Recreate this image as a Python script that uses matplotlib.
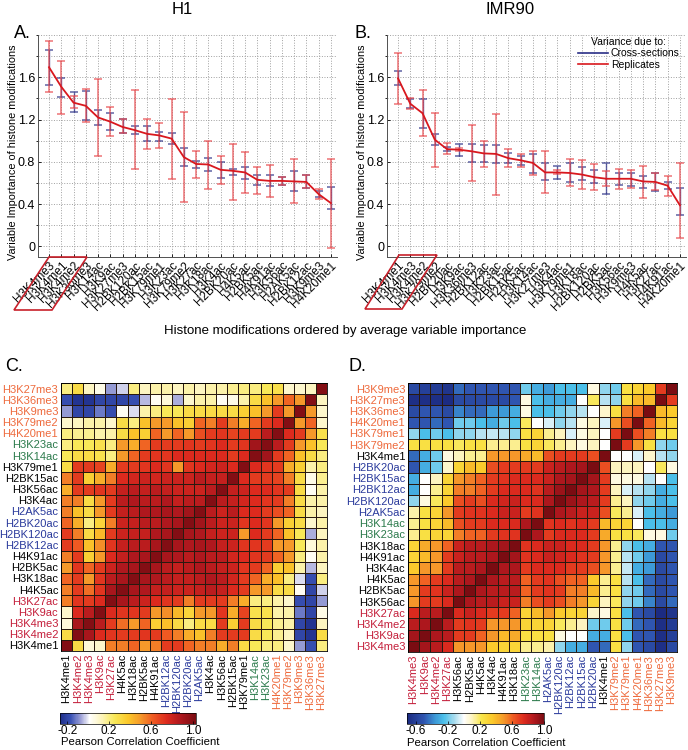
import numpy as np
import matplotlib
matplotlib.use("Agg")
import matplotlib.pyplot as plt
from matplotlib.colors import LinearSegmentedColormap
from matplotlib.patches import Polygon
from matplotlib.lines import Line2D

plt.rcParams['font.family'] = ['Liberation Sans', 'DejaVu Sans']

# ---------------- data: panel A (H1) ----------------
a_labels = ["H3K4me3", "H3K4me1", "H3K4me2", "H3K36me3", "H3K14ac", "H3K9ac", "H3K27me3",
            "H2BK120ac", "H2BK15ac", "H3K79me1", "H3K23ac", "H3K79me2", "H3K27ac", "H3K18ac",
            "H3K4ac", "H2BK20ac", "H4K5ac", "H2BK5ac", "H4K91ac", "H3K56ac", "H2AK5ac",
            "H2BK12ac", "H3K9me3", "H4K20me1"]
a_mean = [1.695, 1.51, 1.36, 1.33, 1.22, 1.18, 1.13, 1.10, 1.065, 1.05, 1.02, 0.845, 0.78, 0.775,
          0.725, 0.715, 0.70, 0.63, 0.62, 0.62, 0.615, 0.61, 0.495, 0.41]
a_rep_lo = [1.46, 1.255, 1.31, 1.18, 0.855, 1.04, 1.07, 0.735, 0.92, 0.93, 0.64, 0.42, 0.65, 0.545,
            0.59, 0.44, 0.505, 0.50, 0.465, 0.58, 0.41, 0.55, 0.445, -0.015]
a_rep_hi = [1.94, 1.75, 1.42, 1.49, 1.58, 1.315, 1.21, 1.48, 1.21, 1.165, 1.39, 1.27, 0.90, 1.0,
            0.86, 0.97, 0.895, 0.755, 0.77, 0.655, 0.825, 0.675, 0.545, 0.825]
a_cs_lo = [1.53, 1.41, 1.27, 1.20, 1.15, 1.10, 1.07, 1.06, 1.00, 1.00, 0.97, 0.76, 0.745, 0.715,
           0.645, 0.68, 0.64, 0.585, 0.575, 0.58, 0.525, 0.555, 0.47, 0.35]
a_cs_hi = [1.86, 1.59, 1.46, 1.47, 1.29, 1.265, 1.21, 1.14, 1.135, 1.08, 1.07, 0.935, 0.81, 0.835,
           0.80, 0.735, 0.755, 0.68, 0.675, 0.66, 0.715, 0.675, 0.52, 0.565]

# ---------------- data: panel B (IMR90) ----------------
b_labels = ["H3K4me1", "H3K4me3", "H3K4me2", "H3K79me2", "H2BK20ac", "H3K9ac", "H3K36me3",
            "H2BK12ac", "H3K23ac", "H2BK15ac", "H2AK5ac", "H3K14ac", "H3K27me3", "H3K4ac",
            "H3K79me1", "H3K18ac", "H2BK120ac", "H2BK5ac", "H3K56ac", "H3K9me3", "H4K5ac",
            "H3K27ac", "H4K91ac", "H4K20me1"]
b_mean = [1.59, 1.35, 1.26, 1.01, 0.92, 0.915, 0.90, 0.88, 0.875, 0.835, 0.815, 0.79, 0.70, 0.70,
          0.695, 0.68, 0.655, 0.64, 0.64, 0.64, 0.615, 0.61, 0.575, 0.39]
b_rep_lo = [1.35, 1.30, 1.04, 0.755, 0.87, 0.90, 0.615, 0.75, 0.485, 0.75, 0.755, 0.675, 0.505,
            0.685, 0.57, 0.545, 0.53, 0.57, 0.54, 0.555, 0.46, 0.53, 0.48, 0.08]
b_rep_hi = [1.83, 1.40, 1.48, 1.26, 0.975, 0.935, 1.145, 0.995, 1.255, 0.92, 0.875, 0.90, 0.905,
            0.72, 0.83, 0.82, 0.78, 0.71, 0.735, 0.72, 0.765, 0.695, 0.67, 0.785]
b_cs_lo = [1.525, 1.31, 1.125, 0.96, 0.90, 0.855, 0.80, 0.80, 0.785, 0.785, 0.775, 0.695, 0.625,
           0.635, 0.61, 0.63, 0.60, 0.50, 0.585, 0.575, 0.555, 0.525, 0.54, 0.30]
b_cs_hi = [1.655, 1.395, 1.39, 1.06, 0.94, 0.97, 0.965, 0.955, 0.955, 0.88, 0.855, 0.87, 0.785,
           0.765, 0.79, 0.755, 0.72, 0.785, 0.695, 0.695, 0.67, 0.695, 0.61, 0.555]

# ---------------- data: panel C (H1 correlations) ----------------
c_labels = ["H3K4me1", "H3K4me2", "H3K4me3", "H3K9ac", "H3K27ac", "H4K5ac", "H3K18ac", "H2BK5ac",
            "H4K91ac", "H2BK12ac", "H2BK120ac", "H2BK20ac", "H2AK5ac", "H3K4ac", "H3K56ac",
            "H2BK15ac", "H3K79me1", "H3K14ac", "H3K23ac", "H4K20me1", "H3K79me2", "H3K9me3",
            "H3K36me3", "H3K27me3"]
c_lower = [
    [1.0],
    [0.30, 1.0],
    [0.08, 0.90, 1.0],
    [0.10, 0.75, 0.85, 1.0],
    [0.55, 0.72, 0.70, 0.75, 1.0],
    [0.55, 0.70, 0.58, 0.72, 0.90, 1.0],
    [0.60, 0.70, 0.50, 0.72, 0.85, 0.90, 1.0],
    [0.50, 0.72, 0.60, 0.70, 0.80, 0.88, 0.90, 1.0],
    [0.55, 0.70, 0.35, 0.50, 0.75, 0.82, 0.88, 0.90, 1.0],
    [0.70, 0.62, 0.40, 0.52, 0.72, 0.82, 0.85, 0.85, 0.90, 1.0],
    [0.70, 0.55, 0.30, 0.42, 0.70, 0.80, 0.82, 0.82, 0.88, 0.90, 1.0],
    [0.60, 0.45, 0.20, 0.33, 0.55, 0.80, 0.82, 0.85, 0.85, 0.88, 0.90, 1.0],
    [0.55, 0.40, 0.30, 0.50, 0.70, 0.82, 0.85, 0.88, 0.88, 0.90, 0.88, 0.92, 1.0],
    [0.55, 0.55, 0.30, 0.50, 0.70, 0.85, 0.88, 0.85, 0.85, 0.88, 0.82, 0.85, 0.85, 1.0],
    [0.45, 0.70, 0.70, 0.72, 0.70, 0.82, 0.85, 0.82, 0.85, 0.82, 0.80, 0.80, 0.80, 0.85, 1.0],
    [0.55, 0.70, 0.35, 0.45, 0.55, 0.75, 0.78, 0.80, 0.78, 0.80, 0.80, 0.80, 0.85, 0.82, 0.82, 1.0],
    [0.30, 0.70, 0.70, 0.68, 0.45, 0.70, 0.70, 0.72, 0.75, 0.72, 0.50, 0.72, 0.75, 0.78, 0.80, 0.75, 1.0],
    [0.25, 0.30, 0.30, 0.28, 0.20, 0.50, 0.60, 0.70, 0.72, 0.72, 0.75, 0.75, 0.75, 0.75, 0.75, 0.70,
     0.75, 1.0],
    [0.20, 0.25, 0.25, 0.28, 0.20, 0.50, 0.45, 0.60, 0.70, 0.70, 0.70, 0.72, 0.70, 0.72, 0.75, 0.70,
     0.72, 0.92, 1.0],
    [0.20, 0.18, 0.18, 0.15, 0.15, 0.30, 0.40, 0.35, 0.60, 0.50, 0.60, 0.50, 0.65, 0.70, 0.72, 0.68,
     0.70, 0.70, 0.85, 1.0],
    [0.10, 0.12, 0.15, 0.15, 0.10, 0.30, 0.20, 0.40, 0.50, 0.50, 0.40, 0.35, 0.60, 0.55, 0.70, 0.55,
     0.45, 0.60, 0.70, 0.75, 1.0],
    [-0.08, -0.20, -0.20, -0.12, -0.18, 0.03, -0.02, 0.15, 0.20, 0.25, 0.25, 0.30, 0.30, 0.30, 0.30,
     0.30, 0.35, 0.40, 0.50, 0.70, 0.50, 1.0],
    [-0.18, -0.25, -0.25, -0.20, -0.20, -0.20, -0.18, -0.05, 0.03, 0.08, -0.06, 0.10, 0.15, 0.15, 0.03,
     0.05, 0.15, 0.30, 0.40, 0.50, 0.60, 0.50, 1.0],
    [0.20, 0.30, 0.12, 0.05, -0.08, -0.03, 0.20, 0.12, 0.15, 0.15, 0.12, 0.15, 0.12, 0.15, 0.15, 0.18,
     0.20, 0.20, 0.25, 0.28, 0.10, 0.10, 0.12, 1.0],
]
c_groups = {"crimson": ["H3K4me2", "H3K4me3", "H3K9ac", "H3K27ac"],
            "blue": ["H2BK12ac", "H2BK120ac", "H2BK20ac", "H2AK5ac"],
            "green": ["H3K14ac", "H3K23ac"],
            "orange": ["H4K20me1", "H3K79me2", "H3K9me3", "H3K36me3", "H3K27me3"]}

# ---------------- data: panel D (IMR90 correlations) ----------------
d_labels = ["H3K4me3", "H3K9ac", "H3K4me2", "H3K27ac", "H3K56ac", "H2BK5ac", "H4K5ac", "H3K4ac",
            "H4K91ac", "H3K18ac", "H3K23ac", "H3K14ac", "H2AK5ac", "H2BK120ac", "H2BK12ac",
            "H2BK15ac", "H2BK20ac", "H3K4me1", "H3K79me2", "H3K79me1", "H4K20me1", "H3K36me3",
            "H3K27me3", "H3K9me3"]
d_lower = [
    [1.0],
    [0.90, 1.0],
    [0.85, 0.88, 1.0],
    [0.75, 0.85, 0.85, 1.0],
    [0.50, 0.70, 0.70, 0.75, 1.0],
    [0.50, 0.70, 0.72, 0.80, 0.88, 1.0],
    [0.50, 0.60, 0.70, 0.75, 0.85, 0.88, 1.0],
    [0.35, 0.50, 0.50, 0.70, 0.85, 0.85, 0.88, 1.0],
    [0.30, 0.40, 0.50, 0.70, 0.80, 0.85, 0.85, 0.88, 1.0],
    [0.30, 0.45, 0.50, 0.60, 0.80, 0.85, 0.85, 0.88, 0.90, 1.0],
    [0.15, 0.25, 0.30, 0.30, 0.55, 0.60, 0.60, 0.70, 0.72, 0.72, 1.0],
    [0.15, 0.25, 0.30, 0.40, 0.65, 0.70, 0.70, 0.75, 0.75, 0.75, 0.88, 1.0],
    [0.12, 0.25, 0.30, 0.50, 0.70, 0.72, 0.72, 0.75, 0.80, 0.80, 0.70, 0.72, 1.0],
    [-0.15, 0.05, 0.20, 0.35, 0.65, 0.70, 0.65, 0.75, 0.78, 0.80, 0.75, 0.75, 0.88, 1.0],
    [-0.30, 0.00, 0.15, 0.30, 0.55, 0.55, 0.60, 0.70, 0.75, 0.75, 0.75, 0.72, 0.85, 0.92, 1.0],
    [-0.30, 0.00, 0.10, 0.30, 0.50, 0.55, 0.60, 0.70, 0.72, 0.75, 0.75, 0.75, 0.80, 0.88, 0.90, 1.0],
    [-0.50, -0.30, -0.20, 0.08, 0.30, 0.40, 0.35, 0.65, 0.70, 0.70, 0.70, 0.70, 0.80, 0.85, 0.88,
     0.90, 1.0],
    [-0.45, -0.30, -0.20, 0.05, 0.10, 0.15, 0.15, 0.50, 0.50, 0.50, 0.45, 0.40, 0.65, 0.70, 0.70,
     0.70, 0.65, 1.0],
    [0.25, 0.25, 0.25, 0.25, 0.20, 0.25, 0.25, 0.15, 0.15, 0.15, 0.25, 0.30, 0.20, 0.15, 0.10, 0.05,
     0.10, 0.00, 1.0],
    [-0.15, -0.25, -0.20, -0.25, -0.15, -0.15, -0.10, -0.08, -0.10, -0.15, 0.25, 0.30, 0.15, 0.10,
     -0.05, 0.05, 0.10, 0.00, 0.70, 1.0],
    [-0.50, -0.50, -0.45, -0.50, -0.20, -0.20, -0.25, -0.30, -0.20, -0.25, 0.20, 0.00, -0.05, -0.15,
     -0.10, 0.05, 0.10, -0.05, 0.50, 0.65, 1.0],
    [-0.55, -0.50, -0.50, -0.55, -0.40, -0.45, -0.45, -0.35, -0.35, -0.30, 0.05, -0.25, -0.25, -0.20,
     -0.15, -0.10, 0.00, 0.08, 0.25, 0.55, 0.60, 1.0],
    [-0.68, -0.68, -0.68, -0.70, -0.55, -0.55, -0.55, -0.55, -0.55, -0.50, 0.05, -0.25, -0.30, -0.30,
     -0.30, 0.00, 0.20, -0.10, -0.15, 0.25, 0.40, 0.40, 1.0],
    [-0.55, -0.60, -0.62, -0.65, -0.45, -0.50, -0.50, -0.50, -0.50, -0.50, -0.20, -0.30, -0.35, -0.25,
     -0.25, -0.25, 0.05, -0.15, -0.20, 0.25, 0.30, 0.35, 0.70, 1.0],
]
d_groups = {"crimson": ["H3K4me3", "H3K9ac", "H3K4me2", "H3K27ac"],
            "blue": ["H2AK5ac", "H2BK120ac", "H2BK12ac", "H2BK15ac", "H2BK20ac"],
            "green": ["H3K23ac", "H3K14ac"],
            "orange": ["H3K79me2", "H3K79me1", "H4K20me1", "H3K36me3", "H3K27me3", "H3K9me3"]}

c_ticks = [-0.2, 0.2, 0.6, 1.0]
d_ticks = [-0.6, -0.2, 0.2, 0.6, 1.0]

# ---------------- styling ----------------
W, H = 688, 750
GROUP_COLORS = {"crimson": "#c41e3a", "blue": "#2a3a9c", "green": "#2b7a4b", "orange": "#ee6a3c"}
RED_LINE = "#d9181e"
RED_BAR = "#e8454a"
BLUE_BAR = "#2a2f86"


def rect(x0, y0, x1, y1):
    return [x0 / W, 1 - y1 / H, (x1 - x0) / W, (y1 - y0) / H]


def fpt(x, y):
    return (x / W, 1 - y / H)


def make_cmap(name, stops, vmin, vmax):
    pos = [(v - vmin) / (vmax - vmin) for v, _ in stops]
    pos[0], pos[-1] = 0.0, 1.0
    return LinearSegmentedColormap.from_list(name, list(zip(pos, [c for _, c in stops])))


C_MIN, C_MAX = -0.27, 1.03
D_MIN, D_MAX = -0.71, 1.0
cmap_c = make_cmap("c", [(-0.27, '#1f2f8a'), (-0.17, '#3a52b5'), (-0.07, '#a0a3d8'), (0.01, '#ffffff'),
                         (0.12, '#fdf5c0'), (0.25, '#f8e858'), (0.38, '#fbc82a'), (0.5, '#f5992a'),
                         (0.62, '#ef5a22'), (0.75, '#dc2a1e'), (0.88, '#b0181e'), (1.03, '#7a0c12')],
                   C_MIN, C_MAX)
cmap_d = make_cmap("d", [(-0.71, '#1b2a80'), (-0.5, '#2f55b0'), (-0.36, '#3c98d6'), (-0.25, '#4cc0ea'),
                         (-0.12, '#a8dcee'), (0.0, '#ffffff'), (0.1, '#fdf4c0'), (0.22, '#f8e64a'),
                         (0.36, '#fbc82a'), (0.5, '#f5992a'), (0.62, '#ef5a22'), (0.75, '#dc2a1e'),
                         (0.88, '#b0181e'), (1.0, '#7a0c12')],
                   D_MIN, D_MAX)

fig = plt.figure(figsize=(6.88, 7.5), dpi=100)


def importance_panel(pos, labels, mean, rlo, rhi, clo, chi):
    ax = fig.add_axes(pos)
    x = np.arange(len(labels))
    mean = np.array(mean)
    ax.errorbar(x, mean, yerr=[mean - np.array(clo), np.array(chi) - mean], fmt='none',
                ecolor=BLUE_BAR, elinewidth=1.0, capsize=3.2, capthick=1.1, alpha=0.75, zorder=3)
    ax.errorbar(x, mean, yerr=[mean - np.array(rlo), np.array(rhi) - mean], fmt='none',
                ecolor=RED_BAR, elinewidth=1.1, capsize=3.2, capthick=1.1, alpha=0.75, zorder=4)
    ax.plot(x, mean, color=RED_LINE, lw=1.3, zorder=5)
    ax.set_xlim(-0.9, len(labels) - 0.5)
    ax.set_ylim(-0.1, 2.0)
    ax.set_yticks([0, 0.4, 0.8, 1.2, 1.6])
    ax.set_yticklabels(["0", "0.4", "0.8", "1.2", "1.6"], fontsize=9)
    ax.set_yticks(np.arange(0, 2.01, 0.2), minor=True)
    ax.set_xticks(x)
    ax.set_xticklabels(labels, rotation=45, ha='right', va='top', rotation_mode='anchor', fontsize=8.5)
    ax.tick_params(axis='both', direction='in', length=2.5, width=0.6, pad=2)
    ax.tick_params(axis='y', which='minor', length=1.5)
    ax.grid(True, which='both', linestyle=':', color='#a0a0a0', linewidth=0.7)
    ax.set_axisbelow(True)
    for s in ['top', 'right']:
        ax.spines[s].set_visible(False)
    for s in ['left', 'bottom']:
        ax.spines[s].set_linewidth(0.7)
        ax.spines[s].set_color('#505050')
    ax.set_ylabel("Variable Importance of histone modifications", fontsize=7.8)
    ax.yaxis.set_label_coords(-0.067, 0.47)
    return ax


axA = importance_panel(rect(38, 35, 337, 257), a_labels, a_mean, a_rep_lo, a_rep_hi, a_cs_lo, a_cs_hi)
axB = importance_panel(rect(387, 35, 686, 257), b_labels, b_mean, b_rep_lo, b_rep_hi, b_cs_lo, b_cs_hi)

handles = [Line2D([], [], color=BLUE_BAR, lw=1.2), Line2D([], [], color=RED_LINE, lw=1.2)]
leg = axB.legend(handles, ["Cross-sections", "Replicates"], title="Variance due to:", loc='upper right',
                 bbox_to_anchor=(1.0, 1.02), frameon=False, fontsize=7.5, title_fontsize=7.5,
                 handlelength=2.9, handletextpad=0.3, labelspacing=0.15, borderaxespad=0.2)

# red parallelograms around the first three labels
for pts in ([(49, 257), (87, 257), (52, 310), (14, 310)],
            [(399, 255), (437, 255), (402, 309), (365, 309)]):
    fig.add_artist(Polygon([fpt(*p) for p in pts], closed=True, fill=False, edgecolor='#c8202a',
                           linewidth=1.2, transform=fig.transFigure))

fig.text(*fpt(182, 10), "H1", ha='center', va='center', fontsize=12)
fig.text(*fpt(510, 10), "IMR90", ha='center', va='center', fontsize=12)
fig.text(*fpt(14, 38), "A.", ha='left', va='baseline', fontsize=13)
fig.text(*fpt(354, 38), "B.", ha='left', va='baseline', fontsize=13)
fig.text(*fpt(345, 331), "Histone modifications ordered by average variable importance",
         ha='center', va='center', fontsize=9.5)
fig.text(*fpt(5, 371), "C.", ha='left', va='baseline', fontsize=13)
fig.text(*fpt(349, 371), "D.", ha='left', va='baseline', fontsize=13)


def full_matrix(lower):
    n = len(lower)
    m = np.zeros((n, n))
    for i, row in enumerate(lower):
        for j, v in enumerate(row):
            m[i, j] = v
            m[j, i] = v
    return m


def label_color(name, groups):
    for g, names in groups.items():
        if name in names:
            return GROUP_COLORS[g]
    return "black"


def heat_panel(pos, cbpos, labels, lower, groups, cmap, vmin, vmax, ticks, tlabels, cb_text_xy):
    ax = fig.add_axes(pos)
    m = full_matrix(lower)
    n = len(labels)
    mesh = ax.pcolormesh(m, cmap=cmap, vmin=vmin, vmax=vmax, edgecolors='#2a1a10', linewidth=0.55)
    ax.set_xlim(0, n)
    ax.set_ylim(0, n)
    ax.set_xticks(np.arange(n) + 0.5)
    ax.set_yticks(np.arange(n) + 0.5)
    ax.set_xticklabels(labels, rotation=90, fontsize=8)
    ax.set_yticklabels(labels, fontsize=8)
    ax.tick_params(length=0, pad=2)
    for t in ax.get_xticklabels():
        t.set_color(label_color(t.get_text(), groups))
    for t in ax.get_yticklabels():
        t.set_color(label_color(t.get_text(), groups))
    for s in ax.spines.values():
        s.set_linewidth(0.6)
    cax = fig.add_axes(cbpos)
    cb = fig.colorbar(mesh, cax=cax, orientation='horizontal', ticks=ticks)
    cb.ax.set_xticklabels(tlabels, fontsize=8.5)
    cb.ax.tick_params(length=2, width=0.5, pad=1, direction='in')
    cb.outline.set_linewidth(0.5)
    fig.text(*fpt(*cb_text_xy), "Pearson Correlation Coefficient", ha='left', va='center', fontsize=8.2)
    return ax


heat_panel(rect(61, 383, 327, 651), rect(60, 713, 196, 724), c_labels, c_lower, c_groups, cmap_c,
           C_MIN, C_MAX, c_ticks, ["-0.2", "0.2", "0.6", "1.0"], (61, 742))
heat_panel(rect(408, 383, 677, 652), rect(407, 713, 544, 724), d_labels, d_lower, d_groups, cmap_d,
           D_MIN, D_MAX, d_ticks, ["-0.6", "-0.2", "0.2", "0.6", "1.0"], (407, 743))

fig.savefig("out.png", dpi=100)
